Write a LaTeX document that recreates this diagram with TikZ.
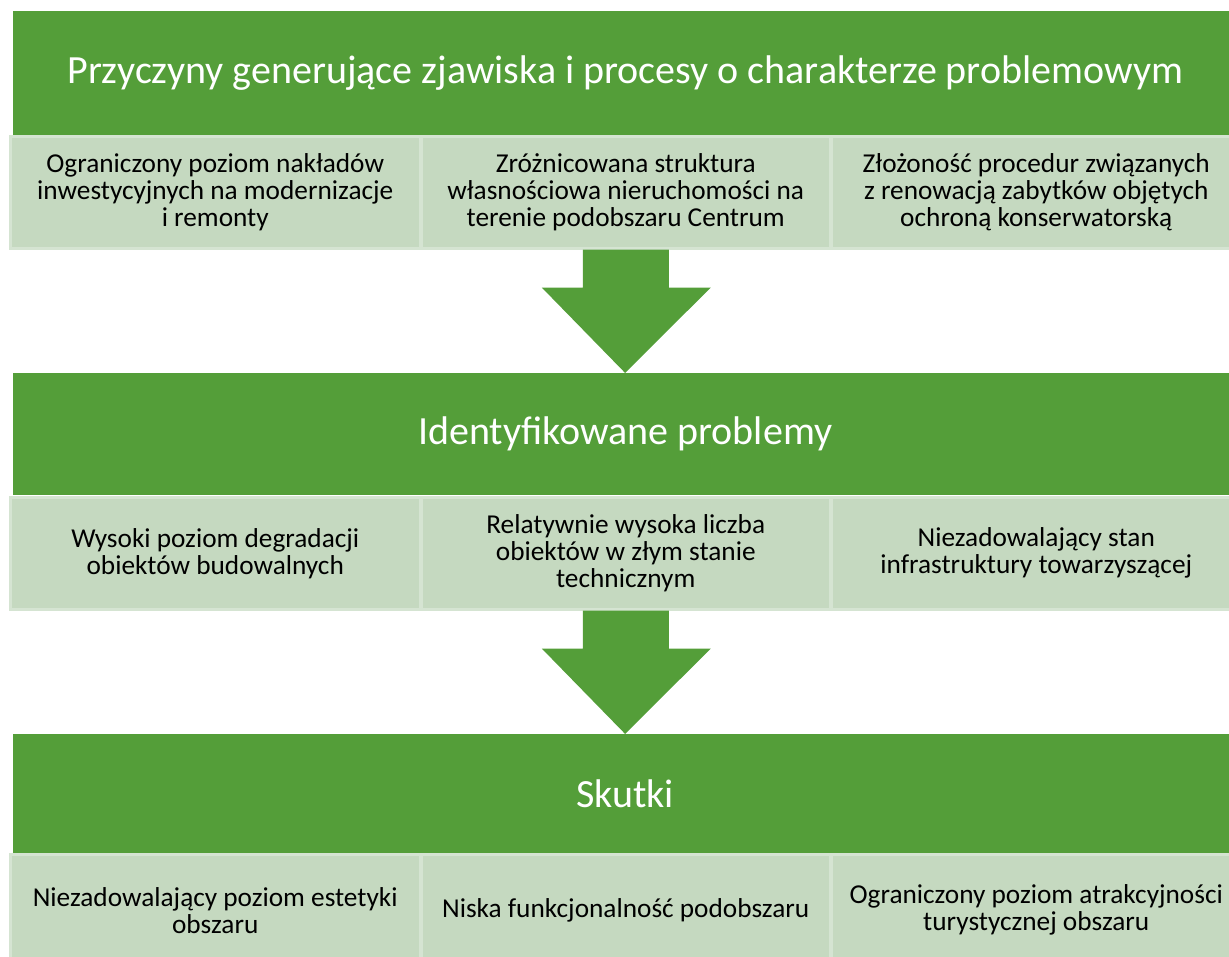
\documentclass[tikz,border=0pt]{standalone}
\usepackage{fontspec}
\setmainfont{Carlito}
\usetikzlibrary{calc}
\definecolor{bandgreen}{HTML}{549E39}
\definecolor{boxgreen}{HTML}{C5D9C0}
\definecolor{boxedge}{HTML}{D5E4D2}
\tikzset{
  band/.style={fill=bandgreen, draw=none, anchor=north west, inner sep=0pt,
    text=white, font=\fontsize{40}{45}\selectfont, align=center},
  cell/.style={fill=boxgreen, draw=boxedge, line width=2.5pt, anchor=north west, inner sep=0pt,
    text=black, font=\fontsize{27.3}{27}\selectfont, align=center},
  blockarrow/.style={fill=bandgreen, draw=none}
}
\begin{document}
\begin{tikzpicture}[x=1pt, y=-1pt]
\useasboundingbox (0,0) rectangle (1229,956);
% bands
\node[band, minimum width=1224pt, minimum height=124pt] (band1) at (13,11)
  {\raisebox{-3pt}{Przyczyny generujące zjawiska i procesy o charakterze problemowym}};
\node[band, minimum width=1224pt, minimum height=122pt] (band2) at (13,373)
  {Identyfikowane problemy};
\node[band, minimum width=1224pt, minimum height=119pt] (band3) at (13,734)
  {Skutki};
% row 1
\node[cell, minimum width=410pt, minimum height=112pt] (c11) at (9,135)
  {Ograniczony poziom nakładów\\inwestycyjnych na modernizacje\\i remonty};
\node[cell, minimum width=409pt, minimum height=112pt] (c12) at (420,135)
  {Zróżnicowana struktura\\własnościowa nieruchomości na\\terenie podobszaru Centrum};
\node[cell, minimum width=410pt, minimum height=112pt] (c13) at (830,135)
  {Złożoność procedur związanych\\z renowacją zabytków objętych\\ochroną konserwatorską};
% row 2
\node[cell, minimum width=410pt, minimum height=112pt] (c21) at (9,496)
  {Wysoki poziom degradacji\\obiektów budowalnych};
\node[cell, minimum width=409pt, minimum height=112pt] (c22) at (420,496)
  {Relatywnie wysoka liczba\\obiektów w złym stanie\\technicznym};
\node[cell, minimum width=410pt, minimum height=112pt] (c23) at (830,496)
  {Niezadowalający stan\\infrastruktury towarzyszącej};
% row 3
\node[cell, minimum width=410pt, minimum height=112pt] (c31) at (9,853)
  {Niezadowalający poziom estetyki\\obszaru};
\node[cell, minimum width=409pt, minimum height=112pt] (c32) at (420,853)
  {Niska funkcjonalność podobszaru};
\node[cell, minimum width=410pt, minimum height=112pt] (c33) at (830,853)
  {Ograniczony poziom atrakcyjności\\turystycznej obszaru};
% block arrows
\fill[blockarrow] ($(c12.south)+(-43,0)$) -- ($(c12.south)+(43,0)$) -- ($(c12.south)+(43,38)$)
  -- ($(c12.south)+(85,38)$) -- ($(band2.north)+(0,0)$) -- ($(c12.south)+(-84,38)$)
  -- ($(c12.south)+(-43,38)$) -- cycle;
\fill[blockarrow] ($(c22.south)+(-43,0)$) -- ($(c22.south)+(43,0)$) -- ($(c22.south)+(43,38)$)
  -- ($(c22.south)+(85,38)$) -- ($(band3.north)+(0,0)$) -- ($(c22.south)+(-84,38)$)
  -- ($(c22.south)+(-43,38)$) -- cycle;
\end{tikzpicture}
\end{document}
